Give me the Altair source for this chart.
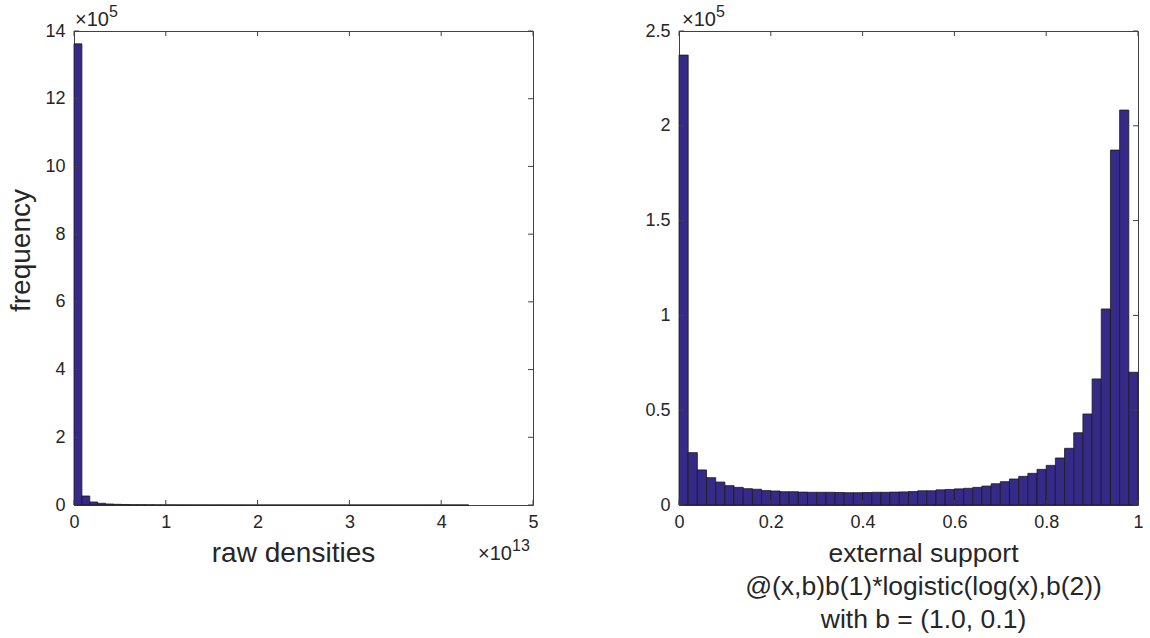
import altair as alt
import pandas as pd

# ---------------- data ----------------
# Left histogram: raw densities, bins in units of 1e13
left_bin_width = 0.086
left_counts = [1362000, 26600, 8900, 5000, 3000, 2000, 1500, 1100, 900, 700,
               550, 450, 380, 320, 270, 230, 200, 170, 150, 130,
               110, 100, 90, 80, 70, 60, 55, 50, 45, 40,
               36, 32, 29, 26, 24, 22, 20, 18, 16, 14,
               12, 11, 10, 9, 8, 7, 6, 5, 4, 3]

# Right histogram: external support, 50 bins on [0, 1]
right_bin_width = 0.02
right_counts = [237300, 27600, 18500, 14400, 12100, 10200, 9300, 8600, 8300, 7600,
                7400, 7000, 7000, 6800, 6700, 6700, 6700, 6600, 6500, 6500,
                6600, 6700, 6700, 6800, 6900, 7100, 7500, 7500, 8000, 8200,
                8500, 8800, 9300, 10000, 11200, 12300, 13700, 15100, 16700, 18800,
                20900, 24800, 29900, 38100, 48000, 66500, 103400, 187200, 208300, 70000]

left_xticks = [0, 1, 2, 3, 4, 5]
left_yticks = [0, 200000, 400000, 600000, 800000, 1000000, 1200000, 1400000]
right_xticks = [0, 0.2, 0.4, 0.6, 0.8, 1.0]
right_yticks = [0, 50000, 100000, 150000, 200000, 250000]

left_xlabel = "raw densities"
left_ylabel = "frequency"
right_xlabel = ["external support", "@(x,b)b(1)*logistic(log(x),b(2))", "with b = (1.0, 0.1)"]

# ---------------- style ----------------
W, H = 459, 474
FONT = "Liberation Sans"
TXT = "#262626"
BAR_FILL = "#352A87"
BAR_EDGE = "#1a1a1a"
TICK = 5


def hist_df(counts, width):
    return pd.DataFrame({
        "b0": [i * width for i in range(len(counts))],
        "b1": [(i + 1) * width for i in range(len(counts))],
        "count": counts,
    })


def panel(counts, width, xdom, ydom, xticks, yticks, xtitle, ytitle,
          ylabel_expr, xtitle_x, xtitle_pad, xtitle_size, extra):
    xs = alt.Scale(domain=xdom, nice=False, zero=False)
    ys = alt.Scale(domain=ydom, nice=False)
    df = hist_df(counts, width)
    xaxis = alt.Axis(values=xticks, ticks=False, domain=False, grid=False,
                     labelFontSize=18, labelPadding=8, labelFlush=False, format="~g",
                     title=xtitle, titleFontSize=xtitle_size, titleFontWeight="normal",
                     titleX=xtitle_x, titlePadding=xtitle_pad, titleLineHeight=33)
    yaxis_kw = dict(values=yticks, ticks=False, domain=False, grid=False,
                    labelFontSize=18, labelPadding=9, labelFlush=False,
                    labelExpr=ylabel_expr)
    if ytitle:
        yaxis = alt.Axis(title=ytitle, titleFontSize=28, titleFontWeight="normal",
                         titlePadding=9, titleY=219, **yaxis_kw)
    else:
        yaxis = alt.Axis(title=None, **yaxis_kw)

    bars = alt.Chart(df).mark_rect(fill=BAR_FILL, stroke=BAR_EDGE, strokeWidth=0.8).encode(
        x=alt.X("b0:Q", scale=xs, axis=xaxis),
        x2="b1:Q",
        y=alt.Y("count:Q", scale=ys, axis=yaxis),
        y2=alt.datum(0),
    )
    xt = pd.DataFrame({"v": xticks})
    yt = pd.DataFrame({"v": yticks})
    tick_style = dict(color="#404040", strokeWidth=1)
    bt = alt.Chart(xt).mark_rule(**tick_style).encode(
        x=alt.X("v:Q", scale=xs, axis=None), y=alt.value(H), y2=alt.value(H - TICK))
    tt = alt.Chart(xt).mark_rule(**tick_style).encode(
        x=alt.X("v:Q", scale=xs, axis=None), y=alt.value(0), y2=alt.value(TICK))
    lt = alt.Chart(yt).mark_rule(**tick_style).encode(
        y=alt.Y("v:Q", scale=ys, axis=None), x=alt.value(0), x2=alt.value(TICK))
    rt = alt.Chart(yt).mark_rule(**tick_style).encode(
        y=alt.Y("v:Q", scale=ys, axis=None), x=alt.value(W), x2=alt.value(W - TICK))
    layers = [bars, bt, tt, lt, rt]
    for (txt, x, y, size) in extra:
        layers.append(
            alt.Chart(pd.DataFrame({"t": [txt]})).mark_text(
                font=FONT, fontSize=size, color=TXT, align="left", baseline="alphabetic"
            ).encode(text="t:N", x=alt.value(x), y=alt.value(y))
        )
    return alt.layer(*layers).resolve_axis(x="independent", y="independent").properties(
        width=W, height=H)


left = panel(left_counts, left_bin_width, [0, 5], [0, 1400000], left_xticks, left_yticks,
             left_xlabel, left_ylabel, "datum.value / 100000", 219, 8, 28,
             [("×10", 1, -5, 20), ("5", 35, -14, 16),
              ("×10", 404, 529, 20), ("13", 438, 520, 16)])
right = panel(right_counts, right_bin_width, [0, 1], [0, 250000], right_xticks, right_yticks,
              right_xlabel, None, "datum.value / 100000", 244, 9, 26.5,
              [("×10", 3, -5, 20), ("5", 37, -14, 16)])

chart = alt.hconcat(left, right, spacing=146, bounds="flush").properties(
    padding={"left": 7, "top": 3, "right": 2, "bottom": 0}
).configure(font=FONT).configure_view(
    stroke="#404040", strokeWidth=1
).configure_axis(
    labelFont=FONT, titleFont=FONT, labelColor=TXT, titleColor=TXT
)

chart.save("out.html", embed_options={"renderer": "svg", "actions": False})
